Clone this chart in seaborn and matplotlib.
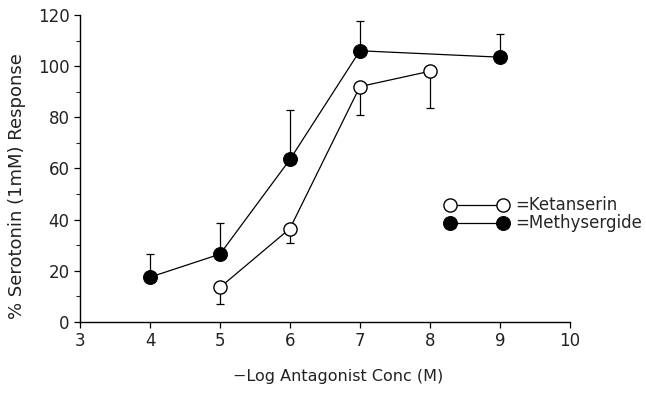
import matplotlib
matplotlib.use("Agg")
import matplotlib.pyplot as plt
import seaborn as sns
import pandas as pd

ket_x = [5, 6, 7, 8]
ket_y = [13.5, 36.5, 92, 98]
ket_err = [6.5, 5.5, 11, 14.5]

met_x = [4, 5, 6, 7, 9]
met_y = [17.5, 26.5, 63.5, 106, 103.5]
met_err = [9, 12, 19.5, 11.5, 9]

x_ticks = [3, 4, 5, 6, 7, 8, 9, 10]
y_ticks = [0, 20, 40, 60, 80, 100, 120]

sns.set_style("ticks")
plt.rcParams['font.family'] = ['DejaVu Sans']

fig = plt.figure(figsize=(6.46, 3.94), dpi=100)
ax = fig.add_axes([0.124, 0.183, 0.758, 0.779])

df_k = pd.DataFrame({"x": ket_x, "y": ket_y})
df_m = pd.DataFrame({"x": met_x, "y": met_y})

# error bars (one-sided)
ax.errorbar(ket_x, ket_y, yerr=[ket_err, [0]*len(ket_err)], fmt='none',
            ecolor='black', elinewidth=0.9, capsize=3, capthick=0.9, zorder=2)
ax.errorbar(met_x, met_y, yerr=[[0]*len(met_err), met_err], fmt='none',
            ecolor='black', elinewidth=0.9, capsize=3, capthick=0.9, zorder=2)

sns.lineplot(data=df_m, x="x", y="y", ax=ax, color='black', lw=0.9,
             marker='o', markersize=10, markerfacecolor='black',
             markeredgecolor='black', label='=Methysergide', zorder=3)
sns.lineplot(data=df_k, x="x", y="y", ax=ax, color='black', lw=0.9,
             marker='o', markersize=9.5, markerfacecolor='white',
             markeredgecolor='black', markeredgewidth=1.0,
             label='=Ketanserin', zorder=3)

handles, labels = ax.get_legend_handles_labels()
leg = ax.legend(handles[::-1], labels[::-1], numpoints=2, frameon=False,
                loc='center left', bbox_to_anchor=(0.728, 0.35),
                fontsize=12, handlelength=3.8, handletextpad=0.4,
                labelspacing=0.0, borderpad=0)

ax.set_xlim(3, 10)
ax.set_ylim(0, 120)
ax.set_xticks(x_ticks)
ax.set_yticks(y_ticks)
ax.set_yticks(range(10, 120, 20), minor=True)
ax.tick_params(axis='both', which='major', labelsize=12, direction='out',
               length=4, width=0.9, color='black', labelcolor='#222222')
ax.tick_params(axis='y', which='minor', length=3, width=0.8)
for s in ['top', 'right']:
    ax.spines[s].set_visible(False)
for s in ['left', 'bottom']:
    ax.spines[s].set_linewidth(1.0)
    ax.spines[s].set_color('black')

ax.set_xlabel("\u2212Log Antagonist Conc (M)", fontsize=11.5, color='#222222')
ax.set_ylabel("% Serotonin (1mM) Response", fontsize=13, color='#222222')
ax.xaxis.set_label_coords(0.527, -0.155)
ax.yaxis.set_label_coords(-0.11, 0.443)

fig.savefig("out.png", dpi=100)
